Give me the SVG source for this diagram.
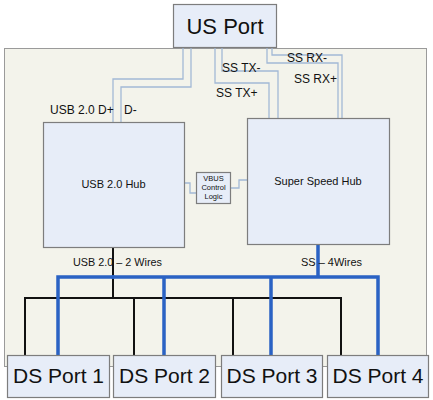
<svg xmlns="http://www.w3.org/2000/svg" width="433" height="400" viewBox="0 0 433 400">
<style>
.box{fill:#e7edf8;stroke:#7d7d7d;stroke-width:1.2}
.t{font-family:"Liberation Sans",Arial,sans-serif;fill:#111}
.w{fill:none;stroke:#a3b9d6;stroke-width:1.3}
.k{fill:none;stroke:#111;stroke-width:2}
.b{fill:none;stroke:#2a62c4;stroke-width:3.5}
</style>
<rect width="433" height="400" fill="#ffffff"/>
<g id="enclosure">
<rect x="4.5" y="48.5" width="422" height="318" fill="#f3f3eb" stroke="#9a9a9a" stroke-width="1"/>
</g>
<g id="connectors">
<path class="w" d="M183 47V79H113V122"/>
<path class="w" d="M191 47V87H121V122"/>
<path class="w" d="M215 47V83H269V118"/>
<path class="w" d="M222 47V71H278V118"/>
<path class="w" d="M267 47V63H338V118"/>
<path class="w" d="M272 47V55H342V118"/>
<path class="w" d="M184 183H190V193H196"/>
<path class="w" d="M230 188H239V180H247"/>
<path class="k" d="M113 247V298M25 355V298H341V355M134 298V355M233 298V355"/>
<path class="b" d="M318 244V277M58 355V277H378V355M164 277V355M271 277V355"/>
<circle cx="113" cy="277" r="2" fill="#2a62c4"/>
</g>
<g id="labels" class="t" font-size="12">
<text x="50" y="114">USB 2.0 D+</text>
<text x="124" y="114">D-</text>
<text x="222" y="72">SS TX-</text>
<text x="216" y="97">SS TX+</text>
<text x="287" y="62">SS RX-</text>
<text x="294" y="83">SS RX+</text>
<text x="73" y="266" font-size="10.5" textLength="89" lengthAdjust="spacingAndGlyphs">USB 2.0 – 2 Wires</text>
<text x="301" y="266" font-size="10.5" textLength="61" lengthAdjust="spacingAndGlyphs">SS – 4Wires</text>
</g>
<g id="us-port">
<rect class="box" x="173.5" y="4.5" width="103" height="43"/>
<text class="t" x="225" y="34" font-size="22" text-anchor="middle">US Port</text>
</g>
<g id="usb2-hub">
<rect class="box" x="43.5" y="122.5" width="141" height="125"/>
<text class="t" x="113.5" y="188" font-size="11" text-anchor="middle">USB 2.0 Hub</text>
</g>
<g id="ss-hub">
<rect class="box" x="247.5" y="118.5" width="142" height="126"/>
<text class="t" x="318" y="185" font-size="11" text-anchor="middle">Super Speed Hub</text>
</g>
<g id="vbus">
<rect class="box" x="196.5" y="172.5" width="34" height="31"/>
<text class="t" x="213.5" y="181" font-size="7.5" text-anchor="middle">VBUS</text>
<text class="t" x="213.5" y="190" font-size="7.5" text-anchor="middle">Control</text>
<text class="t" x="213.5" y="199" font-size="7.5" text-anchor="middle">Logic</text>
</g>
<g id="ds1">
<rect class="box" x="7.5" y="355.5" width="102" height="42"/>
<text class="t" x="58.5" y="383" font-size="21" text-anchor="middle">DS Port 1</text>
</g>
<g id="ds2">
<rect class="box" x="113.5" y="355.5" width="102" height="42"/>
<text class="t" x="164.5" y="383" font-size="21" text-anchor="middle">DS Port 2</text>
</g>
<g id="ds3">
<rect class="box" x="221.5" y="355.5" width="101" height="42"/>
<text class="t" x="272" y="383" font-size="21" text-anchor="middle">DS Port 3</text>
</g>
<g id="ds4">
<rect class="box" x="327.5" y="355.5" width="101" height="42"/>
<text class="t" x="378" y="383" font-size="21" text-anchor="middle">DS Port 4</text>
</g>
</svg>
